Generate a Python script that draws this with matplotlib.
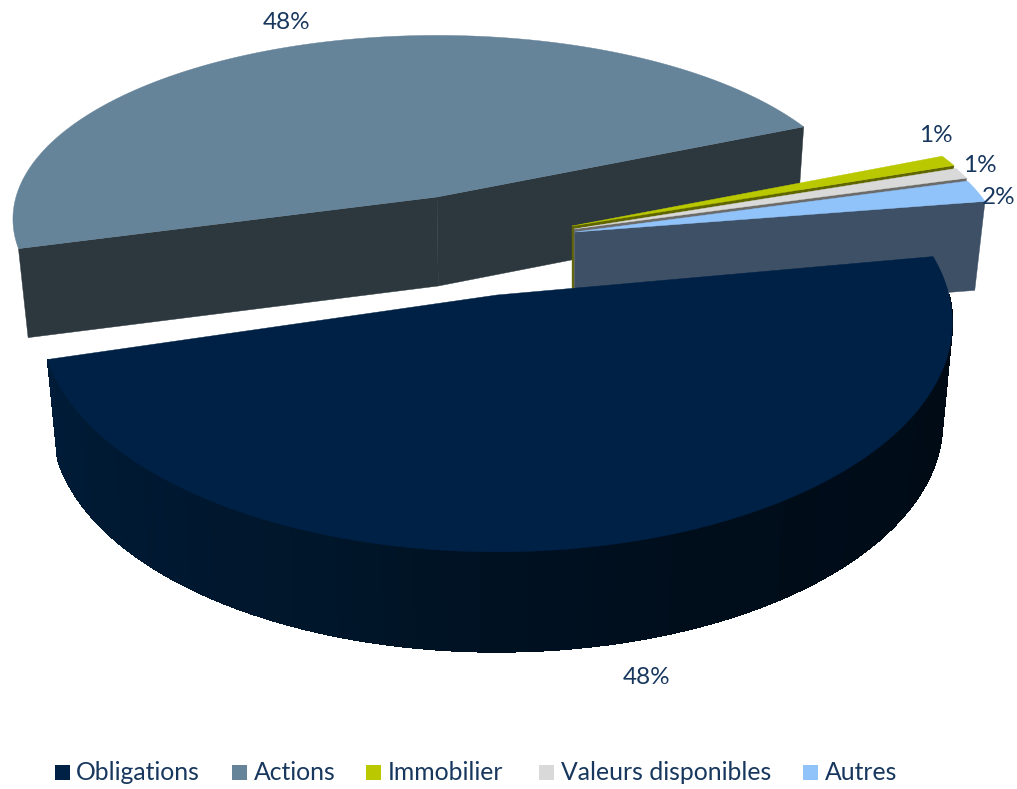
import numpy as np
import matplotlib
matplotlib.use("Agg")
import matplotlib.pyplot as plt
from matplotlib.patches import Polygon, Rectangle
from matplotlib.collections import PolyCollection

categories = ["Obligations", "Actions", "Immobilier", "Valeurs disponibles", "Autres"]
values = [48.33, 47.78, 0.97, 0.97, 1.95]
label_texts = ["48%", "48%", "1%", "1%", "2%"]
colors = ["#002146", "#658399", "#bac800", "#d9d9d9", "#91c3fb"]
wall_colors = [None, "#2c383e", "#5f6500", "#6b6b6b", "#3d5066"]
text_color = "#17375e"

# layout of the exploded perspective pie (pixels)
START = -10.0
PERSP = 0.12
apex = [(497, 295), (437, 197), (572, 226), (574, 229), (575, 232)]
radius = [(452, 226), (421, 181), (425, 180), (425, 180), (425, 180)]
depth = [100, 89, 89, 89, 89]
vanish = [(505, .978), (500, .98), (575, .975), (575, .975), (575, .975)]
label_pos = [(647, 677), (287, 22), (936, 135), (980, 165), (999, 197)]
legend_box_x = [55, 232, 366, 539, 803]
legend_text_x = [76, 254, 388, 561, 825]

plt.rcParams['font.family'] = ['Lato', 'DejaVu Sans']
fig = plt.figure(figsize=(10.17, 7.89), dpi=100)
ax = fig.add_axes([0, 0, 1, 1])
ax.set_xlim(0, 1017)
ax.set_ylim(789, 0)
ax.axis("off")

spans = np.array(values) / sum(values) * 360.0
# clockwise on screen starting with Obligations, the small slices close the circle
edges = START + np.concatenate([[0], np.cumsum(spans)])


def rim(i, phi):
    t = np.radians(np.asarray(phi, dtype=float))
    k = 1 / (1 - PERSP * np.sin(t))
    return np.column_stack([apex[i][0] + radius[i][0] * np.cos(t) * k,
                            apex[i][1] + radius[i][1] * np.sin(t) * k])


def lower(i, pts):
    pts = np.atleast_2d(pts).astype(float)
    vx, s = vanish[i]
    return np.column_stack([vx + (pts[:, 0] - vx) * s, pts[:, 1] + depth[i]])


def top(i, z):
    phi = np.linspace(edges[i], edges[i + 1], 200)
    pts = np.vstack([[apex[i]], rim(i, phi)])
    ax.add_patch(Polygon(pts, closed=True, fc=colors[i], ec=colors[i], lw=.3, zorder=z))


def cut_face(i, phi, z):
    a = np.array([apex[i]], dtype=float)
    e = rim(i, [phi])
    pts = np.vstack([a, e, lower(i, e), lower(i, a)])
    ax.add_patch(Polygon(pts, closed=True, fc=wall_colors[i], ec=wall_colors[i], lw=.3, zorder=z))


# Actions: both cut faces
cut_face(1, edges[1], 1)
cut_face(1, edges[2], 1)
top(1, 2)

# small slices
for n, i in enumerate([2, 3, 4]):
    cut_face(i, edges[i + 1], 3 + n * 2)
    top(i, 4 + n * 2)

# Obligations: curved outer wall with a gradient, bands not antialiased over a smooth base
phis = np.linspace(0, edges[1], 90)
upper = rim(0, phis)
low = lower(0, upper)
ax.add_patch(Polygon(np.vstack([upper, low[::-1]]), closed=True, fc="#000f20", ec="#000f20",
                     lw=.3, zorder=9))
strips = [np.array([upper[j], upper[j + 1], low[j + 1], low[j]]) for j in range(len(phis) - 1)]
shade_phi = [0, 60, 90, 110, 130, 164]
shade_rgb = np.array([[0, 10, 20], [0, 13, 26], [0, 17, 34], [0, 22, 42], [0, 24, 48], [0, 28, 56]]) / 255
mid = (phis[:-1] + phis[1:]) / 2
cols = np.column_stack([np.interp(mid, shade_phi, shade_rgb[:, c]) for c in range(3)])
ax.add_collection(PolyCollection(strips, facecolors=cols, edgecolors=cols, linewidths=.6,
                                 antialiaseds=False, zorder=10))
top(0, 11)

# data labels
for (x, y), s in zip(label_pos, label_texts):
    ax.text(x, y, s, fontsize=17.5, color=text_color, ha="center", va="center", zorder=20)

# legend
for bx, tx, c, name in zip(legend_box_x, legend_text_x, colors, categories):
    ax.add_patch(Rectangle((bx, 765), 15, 15, fc=c, ec="none", zorder=20))
    ax.text(tx, 773, name, fontsize=17.8, color=text_color, ha="left", va="center", zorder=20)

fig.savefig("out.png", dpi=100)
